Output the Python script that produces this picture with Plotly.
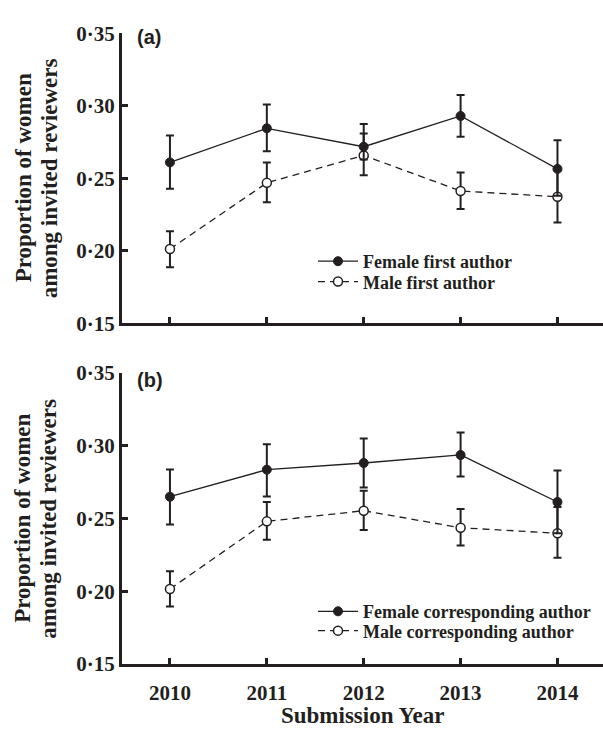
import plotly.graph_objects as go

years = [2010, 2011, 2012, 2013, 2014]

# Panel (a): first author
a_female = [0.2610, 0.2845, 0.2718, 0.2930, 0.2565]
a_female_hi = [0.2795, 0.3009, 0.2875, 0.3075, 0.2762]
a_female_lo = [0.2429, 0.2687, 0.2630, 0.2787, 0.2380]
a_male = [0.2013, 0.2469, 0.2658, 0.2413, 0.2373]
a_male_hi = [0.2136, 0.2609, 0.2810, 0.2540, 0.2555]
a_male_lo = [0.1887, 0.2335, 0.2522, 0.2289, 0.2195]

# Panel (b): corresponding author
b_female = [0.2650, 0.2836, 0.2882, 0.2937, 0.2614]
b_female_hi = [0.2838, 0.3010, 0.3050, 0.3092, 0.2831]
b_female_lo = [0.2459, 0.2652, 0.2713, 0.2789, 0.2400]
b_male = [0.2016, 0.2481, 0.2554, 0.2437, 0.2399]
b_male_hi = [0.2138, 0.2614, 0.2691, 0.2565, 0.2580]
b_male_lo = [0.1896, 0.2355, 0.2421, 0.2315, 0.2231]

ytick_vals = [0.15, 0.20, 0.25, 0.30, 0.35]
ytick_text = ["0·15", "0·20", "0·25", "0·30", "0·35"]
xtick_text = ["2010", "2011", "2012", "2013", "2014"]
ytitle_lines = ["Proportion of women", "among invited reviewers"]

INK = "#231f20"
SERIF = "Liberation Serif"
W, H = 603, 730


def err(vals, hi, lo):
    return dict(type="data", symmetric=False,
                array=[h - v for h, v in zip(hi, vals)],
                arrayminus=[v - l for v, l in zip(vals, lo)],
                color=INK, thickness=2, width=4)


fig = go.Figure()


def add_pair(xa, ya, fleg, mleg, fvals, fhi, flo, mvals, mhi, mlo, fname, mname):
    fig.add_trace(go.Scatter(
        x=years, y=mvals, xaxis=xa, yaxis=ya, legend=mleg, name=mname,
        mode="lines+markers",
        line=dict(color=INK, width=1.3, dash="7px,5px"),
        marker=dict(symbol="circle", size=9, color="white",
                    line=dict(color=INK, width=1.5)),
        error_y=err(mvals, mhi, mlo)))
    fig.add_trace(go.Scatter(
        x=years, y=fvals, xaxis=xa, yaxis=ya, legend=fleg, name=fname,
        mode="lines+markers",
        line=dict(color=INK, width=1.3),
        marker=dict(symbol="circle", size=9, color=INK,
                    line=dict(color=INK, width=1)),
        error_y=err(fvals, fhi, flo)))


add_pair("x", "y", "legend", "legend2", a_female, a_female_hi, a_female_lo,
         a_male, a_male_hi, a_male_lo,
         "Female first author", "Male first author")
add_pair("x2", "y2", "legend3", "legend4", b_female, b_female_hi, b_female_lo,
         b_male, b_male_hi, b_male_lo,
         "Female corresponding author", "Male corresponding author")

x_left = 122 / W
xr = [2009.505, 2014.47]


def py(p):
    return 1 - p / H


common_x = dict(range=xr, showline=True, linewidth=3, linecolor=INK,
                ticks="inside", ticklen=6, tickwidth=3, tickcolor=INK,
                tickvals=years, ticktext=xtick_text, showgrid=False,
                zeroline=False,
                tickfont=dict(family=SERIF, size=21, color=INK, weight="bold"))
common_y = dict(range=[0.15, 0.35], showline=True, linewidth=3, linecolor=INK,
                ticks="inside", ticklen=6, tickwidth=3, tickcolor=INK,
                tickvals=ytick_vals, ticktext=ytick_text, showgrid=False,
                zeroline=False,
                tickfont=dict(family=SERIF, size=21, color=INK, weight="bold"))

legfont = dict(family=SERIF, size=18, color=INK, weight="bold")


def leg(cy):
    return dict(x=313 / W, y=py(cy), xanchor="left", yanchor="middle",
                bgcolor="rgba(0,0,0,0)", font=legfont, itemwidth=40)


fig.update_layout(
    width=W, height=H,
    margin=dict(l=0, r=0, t=0, b=0),
    paper_bgcolor="white", plot_bgcolor="white",
    xaxis=dict(common_x, domain=[x_left, 1], anchor="y", showticklabels=False),
    yaxis=dict(common_y, domain=[py(322), py(22)], anchor="x"),
    xaxis2=dict(common_x, domain=[x_left, 1], anchor="y2", ticklabelstandoff=8),
    yaxis2=dict(common_y, domain=[py(674.3), py(373.3)], anchor="x2"),
    legend=leg(258), legend2=leg(279), legend3=leg(620), legend4=leg(640),
    showlegend=True,
)

for cy in [172, 524]:
    for line, cx in zip(ytitle_lines, [23, 49]):
        fig.add_annotation(xref="paper", yref="paper", x=cx / W, y=py(cy),
                           text=line, textangle=-90, showarrow=False,
                           xanchor="center", yanchor="middle",
                           font=dict(family=SERIF, size=23, color=INK, weight="bold"))

for lab, cy in [("(a)", 26), ("(b)", 380)]:
    fig.add_annotation(xref="paper", yref="paper", x=135 / W, y=py(cy),
                       text=lab, showarrow=False, xanchor="left", yanchor="middle",
                       font=dict(family="Liberation Sans", size=20, color=INK,
                                 weight="bold"))

fig.add_annotation(xref="paper", yref="paper", x=(122 + 603) / 2 / W, y=0,
                   text="Submission Year", showarrow=False,
                   xanchor="center", yanchor="bottom", yshift=-12,
                   font=dict(family=SERIF, size=23, color=INK, weight="bold"))

fig.write_html("out.html")
